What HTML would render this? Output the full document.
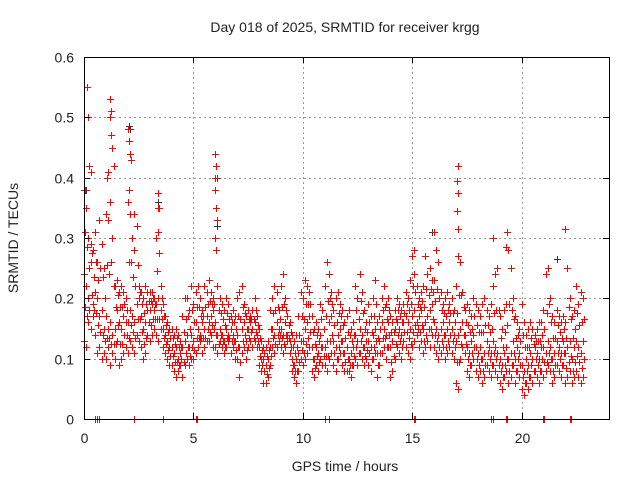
<!DOCTYPE html>
<html><head><meta charset="utf-8"><style>
body{margin:0;background:#fff}
svg text{font-family:"Liberation Sans",sans-serif;font-size:14px;fill:#222}
</style></head><body>
<svg id="chart" width="640" height="480">
<text x="345" y="32" text-anchor="middle">Day 018 of 2025, SRMTID for receiver krgg</text>
<text x="345" y="471" text-anchor="middle">GPS time / hours</text>
<text transform="translate(18,238) rotate(-90)" text-anchor="middle">SRMTID / TECUs</text>
<g id="grid"></g>
<g id="marks" shape-rendering="crispEdges"></g>
<rect x="84.5" y="57.5" width="525" height="362" fill="none" stroke="#000" stroke-width="1"/>
<g id="ticks"></g>
</svg>
<script>
const xTicks=[0,5,10,15,20];
const yTicks=[0,0.1,0.2,0.3,0.4,0.5,0.6];
const yTickLabels=["0","0.1","0.2","0.3","0.4","0.5","0.6"];
const timeStep=0.1;
const lo=[.13,.12,.16,.15,.17,.14,.11,.12,.10,.11,
.10,.12,.09,.11,.10,.13,.09,.10,.11,.12,
.11,.13,.12,.11,.14,.13,.12,.10,.11,.14,
.13,.14,.15,.14,.13,.15,.12,.11,.10,.09,
.09,.08,.07,.08,.09,.07,.09,.10,.09,.10,
.10,.11,.12,.13,.11,.12,.13,.13,.14,.12,
.12,.11,.13,.12,.11,.12,.13,.11,.12,.10,
.10,.07,.11,.12,.10,.12,.13,.12,.13,.12,
.09,.08,.06,.06,.07,.09,.12,.11,.12,.13,
.12,.11,.12,.13,.11,.08,.07,.06,.08,.10,
.09,.10,.11,.12,.08,.07,.09,.08,.10,.09,
.09,.08,.10,.11,.09,.08,.10,.11,.09,.08,
.08,.08,.07,.09,.10,.09,.11,.10,.09,.10,
.09,.08,.10,.11,.07,.09,.11,.12,.10,.12,
.07,.08,.10,.12,.11,.10,.13,.12,.11,.10,
.12,.13,.14,.12,.13,.11,.12,.13,.12,.14,
.12,.11,.10,.11,.12,.10,.11,.12,.11,.10,
.06,.05,.10,.12,.11,.08,.07,.09,.10,.08,
.07,.08,.06,.07,.09,.08,.07,.09,.08,.07,
.06,.05,.07,.08,.06,.07,.09,.06,.08,.07,
.05,.04,.06,.05,.07,.06,.08,.07,.06,.08,
.07,.08,.09,.08,.06,.07,.09,.08,.07,.09,
.06,.07,.08,.06,.07,.08,.07,.06,.07];
const mid=[.24,.22,.20,.26,.19,.21,.20,.17,.18,.15,
.17,.15,.16,.14,.15,.18,.16,.15,.17,.16,
.16,.18,.17,.16,.19,.20,.17,.15,.16,.18,
.18,.19,.18,.19,.20,.18,.15,.14,.13,.12,
.12,.11,.12,.10,.11,.12,.13,.14,.12,.14,
.13,.16,.15,.14,.16,.15,.17,.16,.17,.18,
.16,.14,.15,.14,.13,.15,.14,.15,.14,.13,
.14,.12,.15,.16,.13,.15,.16,.15,.16,.14,
.12,.10,.10,.09,.10,.12,.15,.14,.16,.15,
.15,.14,.16,.14,.13,.10,.09,.10,.11,.13,
.13,.15,.16,.17,.12,.10,.12,.11,.14,.12,
.12,.13,.16,.17,.13,.12,.14,.15,.13,.11,
.12,.10,.11,.12,.14,.13,.15,.14,.12,.13,
.13,.12,.14,.15,.11,.13,.16,.15,.14,.16,
.12,.13,.15,.16,.15,.14,.16,.17,.16,.15,
.17,.18,.16,.17,.18,.15,.16,.17,.18,.19,
.16,.15,.14,.15,.16,.14,.15,.16,.15,.14,
.13,.14,.15,.16,.14,.12,.11,.13,.14,.12,
.11,.12,.10,.11,.13,.12,.11,.13,.12,.11,
.10,.09,.11,.12,.10,.11,.13,.10,.12,.11,
.09,.08,.10,.09,.11,.10,.12,.11,.10,.12,
.12,.11,.13,.12,.10,.11,.13,.12,.11,.13,
.11,.12,.13,.10,.12,.13,.12,.11,.13];
const hi=[.38,.35,.30,.29,.28,.31,.26,.33,.29,.25,
.34,.33,.36,.30,.22,.23,.21,.22,.21,.20,
.36,.34,.30,.28,.32,.22,.21,.20,.22,.21,
.21,.21,.20,.30,.35,.22,.19,.17,.16,.15,
.15,.14,.15,.14,.13,.17,.20,.20,.18,.22,
.19,.21,.22,.20,.18,.22,.21,.23,.21,.20,
.40,.22,.20,.19,.18,.20,.19,.17,.18,.17,
.20,.21,.22,.19,.17,.18,.17,.18,.20,.17,
.15,.13,.12,.12,.13,.18,.20,.22,.21,.18,
.22,.24,.20,.17,.16,.14,.13,.14,.17,.21,
.20,.23,.22,.21,.17,.15,.16,.15,.19,.18,
.22,.26,.24,.21,.18,.20,.21,.19,.18,.16,
.17,.18,.15,.16,.22,.20,.24,.21,.18,.16,
.19,.17,.20,.23,.16,.17,.20,.22,.19,.20,
.17,.16,.18,.20,.19,.18,.19,.21,.20,.23,
.27,.24,.22,.20,.21,.22,.27,.24,.25,.23,
.23,.28,.26,.21,.19,.20,.21,.19,.20,.18,
.22,.27,.26,.21,.18,.19,.18,.17,.20,.19,
.18,.17,.19,.20,.18,.17,.19,.22,.24,.25,
.17,.15,.18,.19,.28,.25,.20,.17,.16,.15,
.19,.16,.14,.15,.16,.15,.14,.15,.16,.16,
.18,.24,.25,.20,.17,.16,.18,.17,.16,.17,
.16,.25,.20,.17,.18,.22,.19,.21,.20];
const spikeT=[0.15,0.2,0.25,0.3,0.05,1.2,1.25,1.2,1.25,1.3,1.1,1.05,1.35,2.0,2.05,2.1,2.15,2.05,2.3,3.4,3.45,3.4,6.0,6.05,6.1,6.0,6.05,6.1,6.0,17.1,17.05,17.1,17.05,17.1,19.35,19.3,18.7,22.0,16.0,15.1];
const spikeV=[0.55,0.5,0.42,0.41,0.38,0.53,0.51,0.5,0.47,0.45,0.41,0.4,0.42,0.48,0.46,0.44,0.43,0.38,0.34,0.375,0.35,0.31,0.44,0.42,0.4,0.38,0.35,0.33,0.3,0.42,0.395,0.375,0.345,0.315,0.31,0.285,0.3,0.315,0.31,0.28];
const blackT=[0.1,2.05,2.1,6.1,15.9,21.6,3.4];
const blackV=[0.38,0.485,0.48,0.32,0.31,0.265,0.36];
const zeroT=[0.5,0.6,0.7,2.3,3.6,5.1,5.15,11.0,11.2,15.1,15.15,18.6,18.7,19.3,19.35,21.0,21.05,22.2,22.25];

const X0=84,X1=609,Y0=419,Y1=57,XMAX=24,YMAX=0.6;
const sx=t=>X0+t/XMAX*(X1-X0);
const sy=v=>Y0-v/YMAX*(Y0-Y1);
const NS="http://www.w3.org/2000/svg";
const grid=document.getElementById('grid'),marks=document.getElementById('marks'),ticks=document.getElementById('ticks');
function ln(p,x1,y1,x2,y2,st,dash){const l=document.createElementNS(NS,'line');l.setAttribute('x1',x1);l.setAttribute('y1',y1);l.setAttribute('x2',x2);l.setAttribute('y2',y2);l.setAttribute('stroke',st);if(dash)l.setAttribute('stroke-dasharray',dash);p.appendChild(l);return l;}
xTicks.forEach(t=>{const x=Math.round(sx(t))+0.5;
 if(t>0){const g=ln(grid,x,Y1,x,Y0,'#999','2,3');
 
 }
 ln(ticks,x,Y0,x,Y0-6,'#000');ln(ticks,x,Y1,x,Y1+6,'#000');
 const tx=document.createElementNS(NS,'text');tx.setAttribute('x',x);tx.setAttribute('y',Y0+24);tx.setAttribute('text-anchor','middle');tx.textContent=t;
 
 
 ticks.appendChild(tx);});
yTicks.forEach((v,i)=>{const y=Math.round(sy(v))+0.5;
 if(v>0&&v<YMAX){const g=ln(grid,X0,y,X1,y,'#999','2,3');
 
 }
 ln(ticks,X0,y,X0+6,y,'#000');ln(ticks,X1,y,X1-6,y,'#000');
 const tx=document.createElementNS(NS,'text');tx.setAttribute('x',X0-10);tx.setAttribute('y',y+5);tx.setAttribute('text-anchor','end');tx.textContent=yTickLabels[i];
 
 
 ticks.appendChild(tx);});
function cross(t,v,col,name){const x=Math.round(sx(t)),y=Math.round(sy(v));
 const g=document.createElementNS(NS,'g');
 g.setAttribute('fill',col);
 
 
 const h=document.createElementNS(NS,'rect');h.setAttribute('x',x-3);h.setAttribute('y',y);h.setAttribute('width',7);h.setAttribute('height',1);
 const w=document.createElementNS(NS,'rect');w.setAttribute('x',x);w.setAttribute('y',y-3);w.setAttribute('width',1);w.setAttribute('height',7);
 g.appendChild(h);g.appendChild(w);marks.appendChild(g);}
blackT.forEach((t,i)=>cross(t,blackV[i],'#333','black-point'));
[lo,mid,hi].forEach(arr=>arr.forEach((v,i)=>cross(i*timeStep,v,'#ff0000','srmtid-point')));
mid.forEach((v,i)=>{cross(i*timeStep+0.05,(v+lo[i])/2,'#ff0000','srmtid-point');cross(i*timeStep+0.05,(v+hi[i])/2,'#ff0000','srmtid-point');});
spikeT.forEach((t,i)=>cross(t,spikeV[i],'#ff0000','spike-point'));
zeroT.forEach(t=>cross(t,0,'#ff0000','zero-point'));
</script>
</body></html>
